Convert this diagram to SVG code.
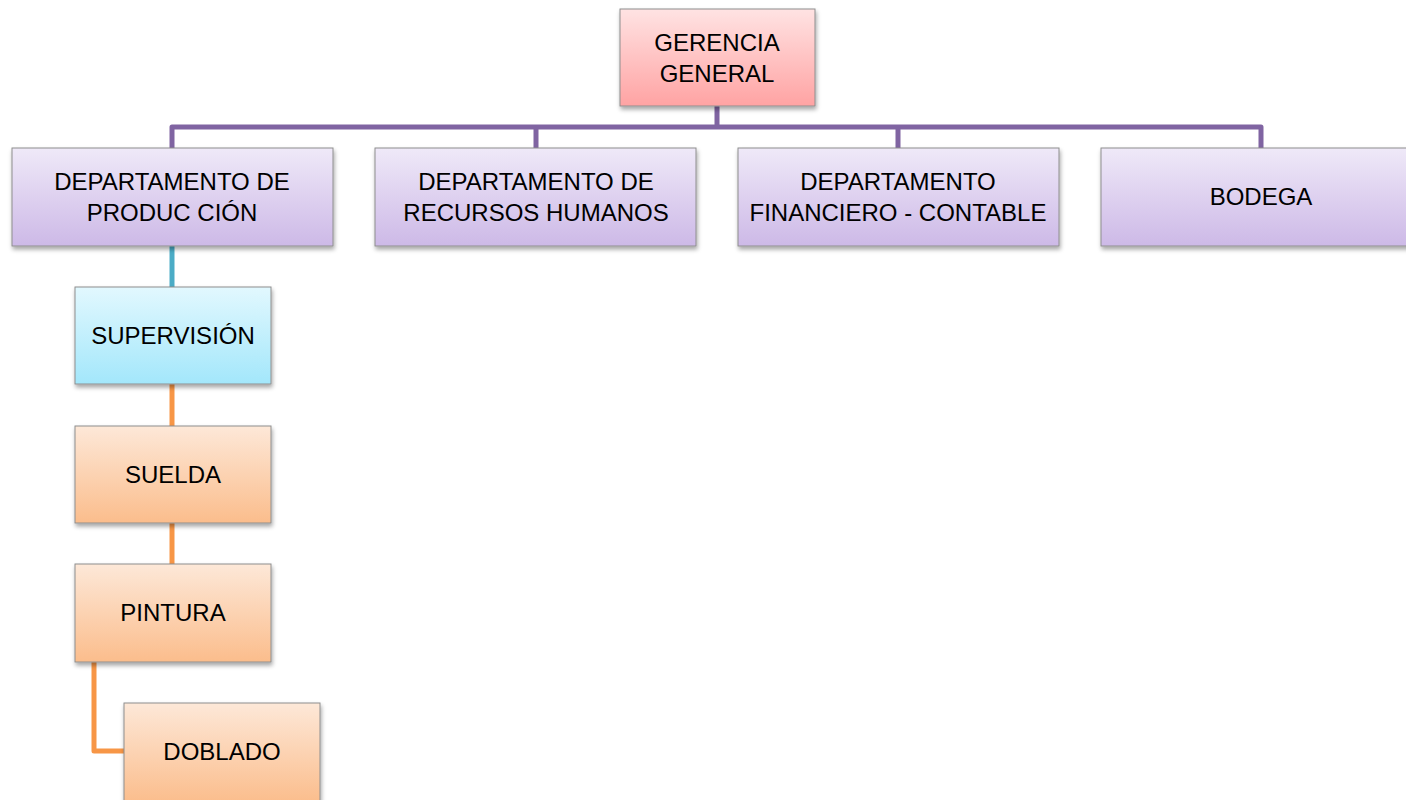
<svg xmlns="http://www.w3.org/2000/svg" width="1406" height="800" viewBox="0 0 1406 800">
<defs>
<linearGradient id="gPink" x1="0" y1="0" x2="0" y2="1"><stop offset="0" stop-color="#FFE3E3"/><stop offset="1" stop-color="#FFA3A3"/></linearGradient>
<linearGradient id="gPurple" x1="0" y1="0" x2="0" y2="1"><stop offset="0" stop-color="#EFE9F8"/><stop offset="1" stop-color="#CDB9E7"/></linearGradient>
<linearGradient id="gBlue" x1="0" y1="0" x2="0" y2="1"><stop offset="0" stop-color="#E2F8FE"/><stop offset="1" stop-color="#A3E7FB"/></linearGradient>
<linearGradient id="gOrange" x1="0" y1="0" x2="0" y2="1"><stop offset="0" stop-color="#FDE8D8"/><stop offset="1" stop-color="#FBBD8C"/></linearGradient>
<filter id="sh" x="-5%" y="-5%" width="115%" height="120%"><feDropShadow dx="1" dy="3" stdDeviation="2" flood-color="#000" flood-opacity="0.35"/></filter>
</defs>
<style>
.box{stroke:#8E8E8E;stroke-width:1;filter:url(#sh)}
.t{font-family:"Liberation Sans",Arial,sans-serif;font-size:24px;fill:#000;text-anchor:middle}
.cp{stroke:#8064A2;stroke-width:5;fill:none;stroke-linejoin:round;stroke-linecap:round}
.cb{stroke:#4BACC6;stroke-width:5;fill:none}
.co{stroke:#F79646;stroke-width:5;fill:none;stroke-linejoin:round}
</style>
<g id="connectors">
<path class="cp" d="M717 106V127M172 148V127H1261V148M536 127V148M898 127V148"/>
<path class="cb" d="M172 246V287"/>
<path class="co" d="M172 384V426M172 523V564M94 662V751H124"/>
</g>
<g id="gerencia"><rect class="box" x="620" y="9" width="195" height="97" fill="url(#gPink)"/><text class="t" x="717" y="51">GERENCIA</text><text class="t" x="717" y="82">GENERAL</text></g>
<g id="produccion"><rect class="box" x="12" y="148" width="321" height="98" fill="url(#gPurple)"/><text class="t" x="172" y="190">DEPARTAMENTO DE</text><text class="t" x="172" y="221">PRODUC CIÓN</text></g>
<g id="rrhh"><rect class="box" x="375" y="148" width="321" height="98" fill="url(#gPurple)"/><text class="t" x="536" y="190">DEPARTAMENTO DE</text><text class="t" x="536" y="221">RECURSOS HUMANOS</text></g>
<g id="financiero"><rect class="box" x="738" y="148" width="321" height="98" fill="url(#gPurple)"/><text class="t" x="898" y="190">DEPARTAMENTO</text><text class="t" x="898" y="221">FINANCIERO - CONTABLE</text></g>
<g id="bodega"><rect class="box" x="1101" y="148" width="321" height="98" fill="url(#gPurple)"/><text class="t" x="1261" y="205">BODEGA</text></g>
<g id="supervision"><rect class="box" x="75" y="287" width="196" height="97" fill="url(#gBlue)"/><text class="t" x="173" y="344">SUPERVISIÓN</text></g>
<g id="suelda"><rect class="box" x="75" y="426" width="196" height="97" fill="url(#gOrange)"/><text class="t" x="173" y="483">SUELDA</text></g>
<g id="pintura"><rect class="box" x="75" y="564" width="196" height="98" fill="url(#gOrange)"/><text class="t" x="173" y="621">PINTURA</text></g>
<g id="doblado"><rect class="box" x="124" y="703" width="196" height="100" fill="url(#gOrange)"/><text class="t" x="222" y="760">DOBLADO</text></g>
</svg>
